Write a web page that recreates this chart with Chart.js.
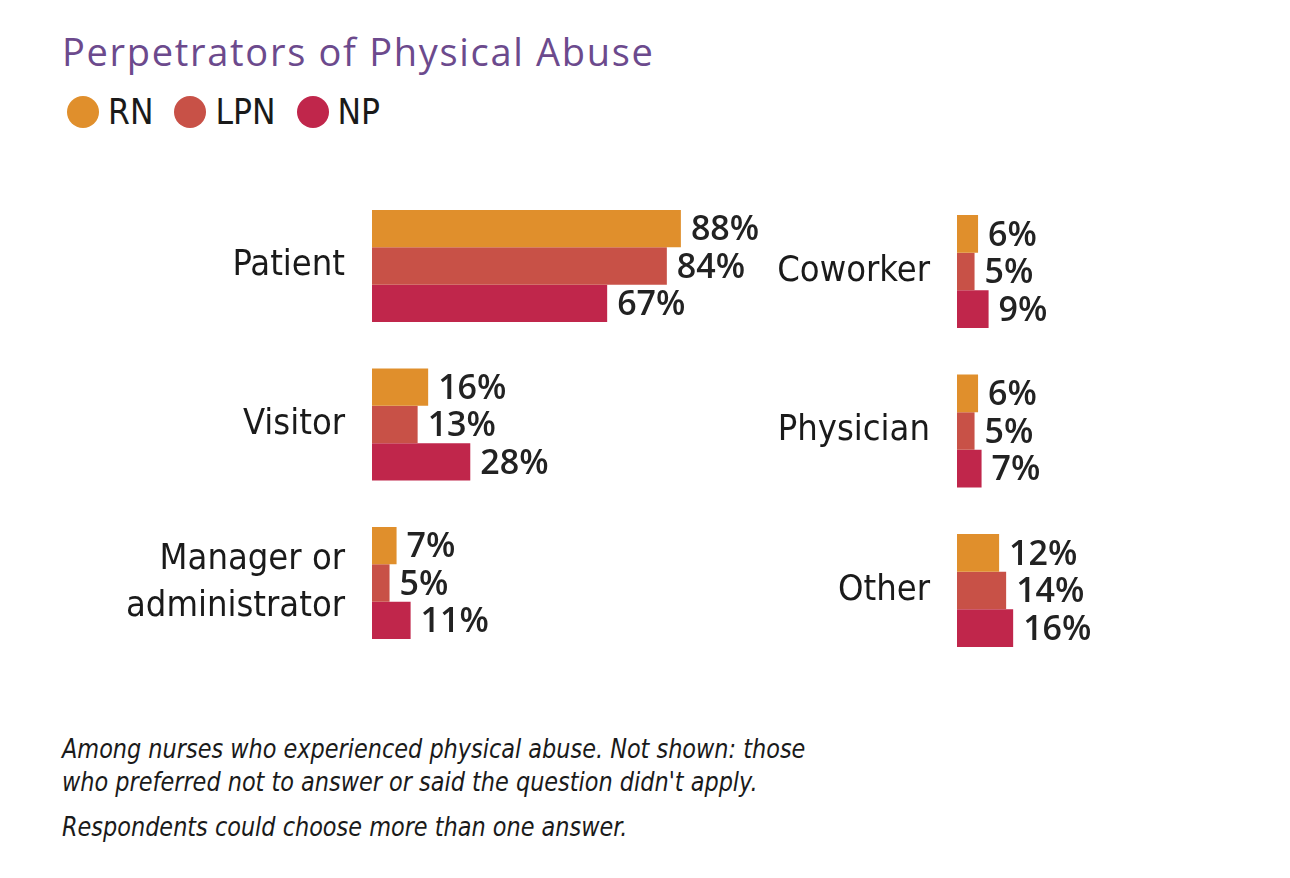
<!DOCTYPE html>
<html>
<head>
<meta charset="utf-8">
<script src="https://cdn.jsdelivr.net/npm/chart.js@4.4.1/dist/chart.umd.min.js"></script>
<style>
  html, body { margin: 0; padding: 0; background: #fff; }
  body { width: 1290px; height: 878px; position: relative; overflow: hidden; }
  .title { position: absolute; left: 62px; top: 25px; font: 400 38px "Open Sans", sans-serif; letter-spacing: 1.7px; color: #6c4a8d; white-space: nowrap; }
  .legend { position: absolute; left: 67px; top: 92px; height: 40px; display: flex; align-items: center; font: 35px "DejaVu Sans Condensed", sans-serif; color: #1a1a1a; }
  .legend span.dot { display: inline-block; width: 32px; height: 32px; border-radius: 50%; margin-right: 9px; }
  .legend span.txt { margin-right: 21px; }
  .note { position: absolute; left: 62px; font: italic 27px "DejaVu Sans Condensed", sans-serif; color: #1a1a1a; white-space: nowrap; transform: scaleX(0.922); transform-origin: left top; }
  canvas { position: absolute; top: 0; }
</style>
</head>
<body>
<div class="title">Perpetrators of Physical Abuse</div>
<div class="legend" id="legend"></div>
<canvas id="left-chart" style="left:0px"></canvas>
<canvas id="right-chart" style="left:700px"></canvas>
<div class="note" style="top:733px">Among nurses who experienced physical abuse. Not shown: those</div>
<div class="note" style="top:766px">who preferred not to answer or said the question didn't apply.</div>
<div class="note" style="top:811px">Respondents could choose more than one answer.</div>
<script>
// 数据
const seriesNames = ['RN', 'LPN', 'NP'];
const seriesColors = ['#e08f2c', '#c85147', '#c0264b'];

const leftCategories = ['Patient', 'Visitor', ['Manager or', 'administrator']];
const leftRN = [88, 16, 7];
const leftLPN = [84, 13, 5];
const leftNP = [67, 28, 11];

const rightCategories = ['Coworker', 'Physician', 'Other'];
const rightRN = [6, 6, 12];
const rightLPN = [5, 5, 14];
const rightNP = [9, 7, 16];

// 图例
const legend = document.getElementById('legend');
seriesNames.forEach((name, i) => {
    legend.insertAdjacentHTML('beforeend',
        '<span class="dot" style="background:' + seriesColors[i] + '"></span><span class="txt">' + name + '</span>');
});

const labelFont = '"DejaVu Sans Condensed", sans-serif';

// 在柱子末端写百分比
const valueLabels = {
    id: 'valueLabels',
    afterDatasetsDraw(chart) {
        const ctx = chart.ctx;
        ctx.save();
        ctx.font = '600 34px "Open Sans", sans-serif';
        ctx.fillStyle = '#222';
        ctx.textBaseline = 'middle';
        ctx.textAlign = 'left';
        chart.data.datasets.forEach((ds, di) => {
            chart.getDatasetMeta(di).data.forEach((bar, i) => {
                ctx.fillText(ds.data[i] + '%', bar.x + 10, bar.y + 2);
            });
        });
        ctx.restore();
    }
};

function makeChart(id, width, height, categories, rn, lpn, np, axisWidth, max, padTop, padBottom) {
    const canvas = document.getElementById(id);
    canvas.style.width = width + 'px';
    canvas.style.height = height + 'px';
    canvas.width = width;
    canvas.height = height;
    return new Chart(canvas.getContext('2d'), {
        type: 'bar',
        data: {
            labels: categories,
            datasets: [rn, lpn, np].map((values, i) => ({
                label: seriesNames[i],
                data: values,
                backgroundColor: seriesColors[i],
                borderWidth: 0,
                categoryPercentage: 0.707,
                barPercentage: 1.0
            }))
        },
        options: {
            indexAxis: 'y',
            responsive: false,
            animation: false,
            devicePixelRatio: 1,
            layout: { padding: { top: padTop, bottom: padBottom, left: 0, right: 0 } },
            plugins: { legend: { display: false }, tooltip: { enabled: false } },
            scales: {
                x: { display: false, min: 0, max: max },
                y: {
                    grid: { display: false, drawTicks: false },
                    border: { display: false },
                    ticks: {
                        padding: 27,
                        color: '#1a1a1a',
                        font: { family: labelFont, size: 36, lineHeight: 1.3 }
                    },
                    afterFit(scale) {
                        scale.width = axisWidth;
                        scale.paddingTop = 0;
                        scale.paddingBottom = 0;
                    }
                }
            }
        },
        plugins: [valueLabels]
    });
}

makeChart('left-chart', 780, 700, leftCategories, leftRN, leftLPN, leftNP, 372, 408 / 3.51, 186.75, 37.75);
makeChart('right-chart', 590, 700, rightCategories, rightRN, rightLPN, rightNP, 257, 333 / 3.51, 191.75, 29.75);
</script>
</body>
</html>
